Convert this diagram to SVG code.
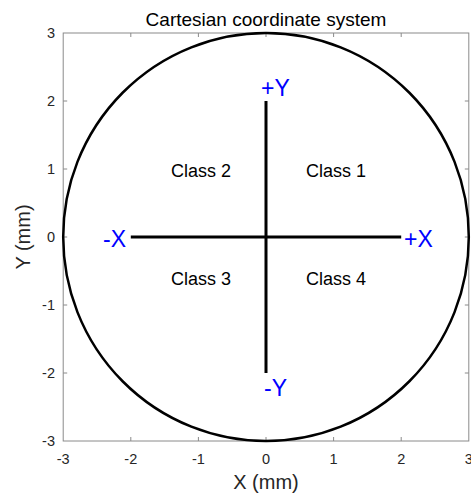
<svg xmlns="http://www.w3.org/2000/svg" width="471" height="496" viewBox="0 0 471 496">
<style>
text{font-family:"Liberation Sans",Arial,sans-serif}
.tick{fill:#262626;font-size:14.5px}
.ax{stroke:#8a8a8a;stroke-width:1;fill:none}
.lbl{fill:#0000ff;font-size:23px}
.cls{fill:#000;font-size:18px}
.ttl{fill:#000;font-size:19px}
.alab{fill:#262626;font-size:20px}
</style>
<rect width="471" height="496" fill="#fff"/>
<g id="axes">
<rect class="ax" x="63.2" y="33" width="405.6" height="408"/>
<path class="ax" d="M130.8,441v-4M198.4,441v-4M266,441v-4M333.6,441v-4M401.2,441v-4M130.8,33v4M198.4,33v4M266,33v4M333.6,33v4M401.2,33v4M63.2,101h4M63.2,169h4M63.2,237h4M63.2,305h4M63.2,373h4M468.8,101h-4M468.8,169h-4M468.8,237h-4M468.8,305h-4M468.8,373h-4"/>
<g class="tick" text-anchor="middle">
<text x="63.2" y="464">-3</text><text x="130.8" y="464">-2</text><text x="198.4" y="464">-1</text><text x="266" y="464">0</text><text x="333.6" y="464">1</text><text x="401.2" y="464">2</text><text x="468.8" y="464">3</text>
</g>
<g class="tick" text-anchor="end">
<text x="55" y="38">3</text><text x="55" y="106">2</text><text x="55" y="174">1</text><text x="55" y="242">0</text><text x="55" y="310">-1</text><text x="55" y="378">-2</text><text x="55" y="446">-3</text>
</g>
<text class="ttl" x="266" y="26" text-anchor="middle">Cartesian coordinate system</text>
<text class="alab" x="266" y="489" text-anchor="middle">X (mm)</text>
<text class="alab" transform="translate(30,237) rotate(-90)" text-anchor="middle">Y (mm)</text>
</g>
<g id="circle">
<ellipse cx="266" cy="237" rx="202.8" ry="204" fill="none" stroke="#000" stroke-width="2.5"/>
</g>
<g id="connectors" stroke="#000" stroke-width="3">
<line x1="130.8" y1="237" x2="401.2" y2="237"/>
<line x1="266" y1="101" x2="266" y2="373"/>
</g>
<g id="label-px"><text class="lbl" x="404" y="247">+X</text></g>
<g id="label-nx"><text class="lbl" x="103" y="247">-X</text></g>
<g id="label-py"><text class="lbl" x="261" y="96">+Y</text></g>
<g id="label-ny"><text class="lbl" x="264" y="396">-Y</text></g>
<g id="class1"><text class="cls" x="306" y="176.5">Class 1</text></g>
<g id="class2"><text class="cls" x="171" y="176.5">Class 2</text></g>
<g id="class3"><text class="cls" x="171" y="284.5">Class 3</text></g>
<g id="class4"><text class="cls" x="306" y="284.5">Class 4</text></g>
</svg>
